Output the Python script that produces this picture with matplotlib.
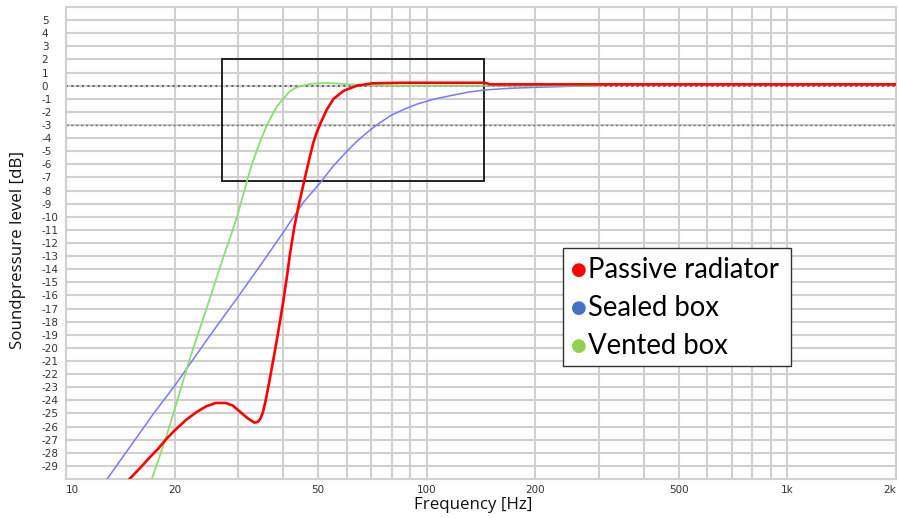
import matplotlib
matplotlib.use("Agg")
from matplotlib import pyplot as plt
import matplotlib.patches as patches
from matplotlib.ticker import FixedLocator, NullFormatter

# --- data --------------------------------------------------------------
pr_freq = [15.0, 16.0, 17.0, 18.0, 18.9, 20.0, 21.5, 23.0, 24.5, 26.0, 27.7,
           29.0, 30.3, 32.0, 33.3, 34.0, 34.6, 35.2, 35.9, 36.6, 37.5, 38.3,
           39.3, 40.0, 41.0, 41.8, 43.0, 44.1, 45.2, 46.3, 47.4, 48.5, 49.5,
           50.6, 52.9, 55.2, 58.8, 64.0, 71.0, 85.0, 145.0, 150.0, 2000.0]
pr_db = [-30.0, -29.2, -28.4, -27.7, -27.0, -26.3, -25.5, -24.9, -24.45, -24.2,
         -24.2, -24.4, -24.85, -25.4, -25.7, -25.65, -25.4, -24.85, -23.8,
         -22.6, -21.0, -19.6, -17.8, -16.5, -14.5, -12.8, -10.7, -9.2, -7.9,
         -6.65, -5.45, -4.35, -3.6, -2.95, -1.8, -1.0, -0.4, 0.0, 0.18, 0.22,
         0.22, 0.1, 0.1]

sealed_freq = [13.0, 15.0, 17.5, 20.0, 25.0, 30.0, 35.0, 40.0, 45.5, 50.7,
               55.0, 60.1, 64.0, 68.4, 73.5, 79.4, 86.5, 94.2, 104.0, 116.5,
               130.0, 144.5, 170.0, 200.0, 250.0, 305.0]
sealed_db = [-30.0, -27.6, -25.0, -22.9, -19.1, -16.1, -13.5, -11.2, -8.9, -7.4,
             -6.15, -5.0, -4.25, -3.56, -2.9, -2.29, -1.8, -1.4, -1.05, -0.76,
             -0.5, -0.33, -0.2, -0.13, -0.05, 0.0]

vented_freq = [17.3, 18.8, 20.0, 22.0, 25.0, 27.2, 28.5, 29.8, 30.8, 31.8,
               32.8, 33.8, 34.9, 36.0, 37.2, 38.4, 40.0, 41.7, 43.0, 44.5,
               46.5, 48.5, 51.7, 55.0, 61.0, 70.0, 80.0, 305.0]
vented_db = [-30.0, -27.1, -24.7, -20.9, -16.3, -13.2, -11.6, -10.0, -8.6, -7.2,
             -5.95, -4.95, -3.95, -3.05, -2.3, -1.6, -1.0, -0.45, -0.2, -0.05,
             0.08, 0.15, 0.2, 0.18, 0.1, 0.03, 0.0, 0.0]

x_ticks = [10, 20, 50, 100, 200, 500, 1000, 2000]
x_tick_labels = ["10", "20", "50", "100", "200", "500", "1k", "2k"]
x_grid = [10, 20, 30, 40, 50, 60, 70, 80, 90, 100, 200, 300, 400, 500, 600,
          700, 800, 900, 1000, 2000]
y_ticks = list(range(-29, 6))

legend_names = ["Passive radiator", "Sealed box", "Vented box"]
legend_colors = ["#ff0000", "#4472c4", "#92d050"]

W, H = 898, 518
fig = plt.figure(figsize=(W / 100, H / 100), dpi=100)
ax_l, ax_r, ax_t, ax_b = 66, 896, 7, 479
ax = fig.add_axes([ax_l / W, 1 - ax_b / H, (ax_r - ax_l) / W, (ax_b - ax_t) / H])

ax.set_xscale("log")
ax.set_xlim(10, 2000)
ax.set_ylim(-30, 6)

grid_c = "#d0d0d0"
for f in x_grid:
    ax.axvline(f, color=grid_c, lw=1.5, zorder=1)
for v in y_ticks:
    ax.axhline(v, color=grid_c, lw=1.5, zorder=1)
ax.axhline(0, color="#505050", lw=1.2, ls=(0, (1.2, 2)), zorder=2)
ax.axhline(-3, color="#707070", lw=1.0, ls=(0, (1.5, 2)), zorder=2)

# highlight box
ax.add_patch(patches.Rectangle((27, -7.3), 144 - 27, 9.3, fill=False,
                               edgecolor="#222222", lw=1.4, zorder=3))

ax.plot(sealed_freq, sealed_db, color="#7878ff", lw=1.1, zorder=4)
ax.plot(vented_freq, vented_db, color="#88e070", lw=1.3, zorder=4)
ax.plot(pr_freq, pr_db, color="#ff0000", lw=1.9, zorder=5)

for s in ax.spines.values():
    s.set_color(grid_c)
    s.set_linewidth(1.5)

ax.xaxis.set_major_locator(FixedLocator(x_ticks))
ax.xaxis.set_minor_formatter(NullFormatter())
ax.set_xticks(x_ticks)
ax.set_xticklabels(x_tick_labels)
ax.tick_params(axis="x", which="both", length=0, pad=4, labelsize=7.5,
               labelcolor="#333333")
ax.set_yticks(y_ticks)
ax.set_yticklabels([str(v) for v in y_ticks], ha="left")
ax.tick_params(axis="y", length=0, pad=17.5, labelsize=7.5, labelcolor="#333333")
ax.get_xticklabels()[0].set_horizontalalignment("left")
ax.get_xticklabels()[-1].set_horizontalalignment("right")

fig.text(473 / W, 1 - 505 / H, "Frequency [Hz]", ha="center", va="center",
         fontsize=12.2, family="Open Sans", color="#111111")
fig.text(18 / W, 1 - 250 / H, "Soundpressure level [dB]", ha="center",
         va="center", rotation=90, fontsize=12.2, family="Open Sans",
         color="#111111")

# legend box drawn by hand to match the inset
lx0, ly0, lx1, ly1 = 563, 248, 791, 366
fig.patches.append(patches.Rectangle((lx0 / W, 1 - ly1 / H), (lx1 - lx0) / W,
                                     (ly1 - ly0) / H, transform=fig.transFigure,
                                     facecolor="white", edgecolor="#333333",
                                     lw=1.0, zorder=6))
for i, (name, c) in enumerate(zip(legend_names, legend_colors)):
    yy = 1 - (270 + 38 * i) / H
    fig.text(579 / W, yy, "\u25CF", color=c, fontsize=13, ha="center",
             va="center", zorder=7)
    fig.text(588 / W, yy, name, color="black", fontsize=19.8, family="Lato",
             ha="left", va="center", zorder=7)

fig.savefig("out.png", dpi=100)
